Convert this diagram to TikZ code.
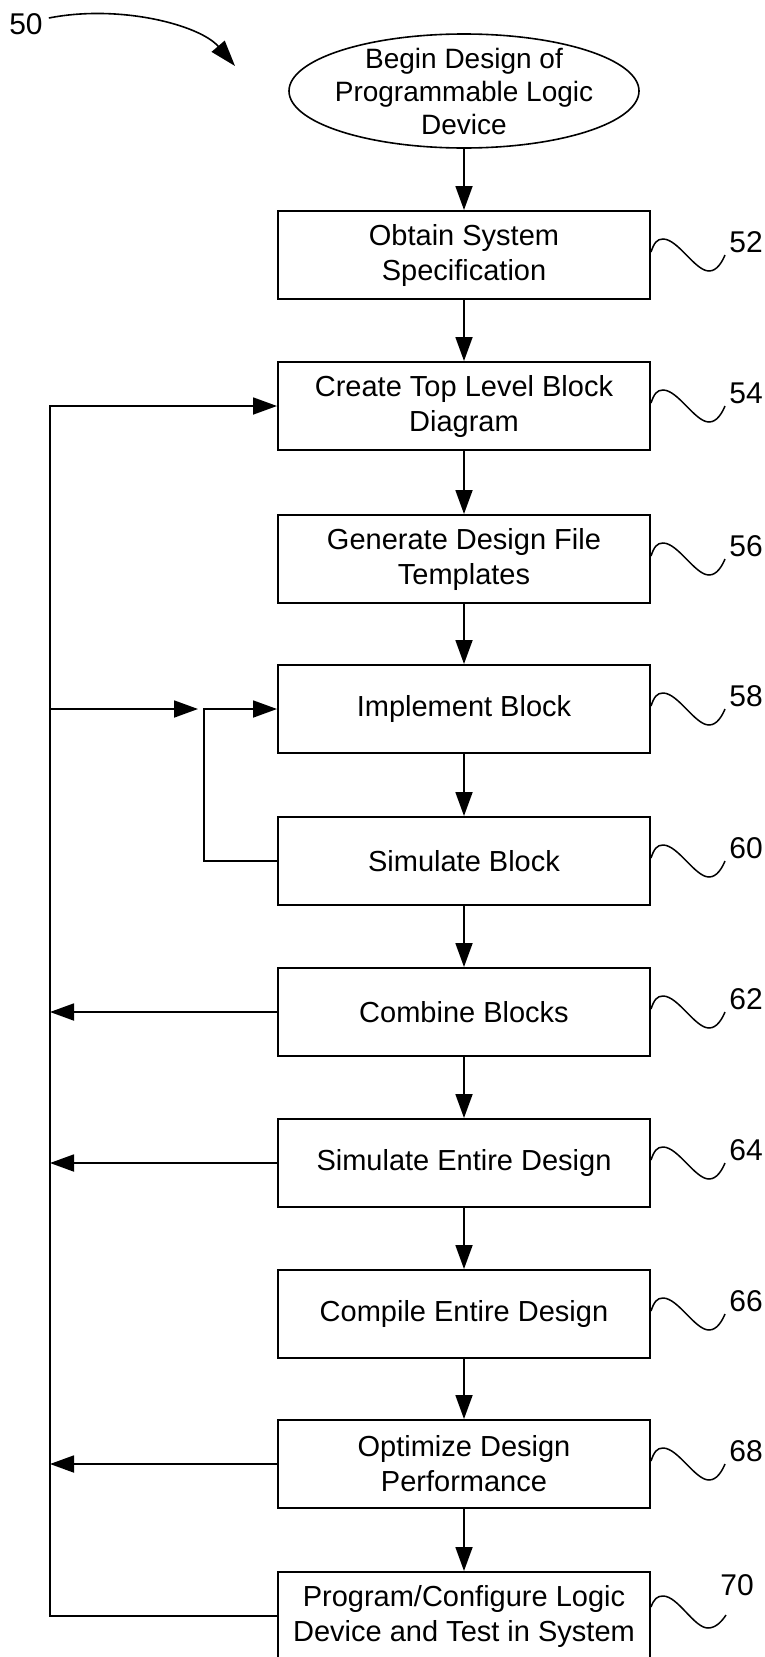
\documentclass[tikz,border=0pt]{standalone}
\usepackage{fontspec}
\setmainfont{Liberation Sans}
\usetikzlibrary{arrows.meta,shapes.geometric,calc}
\tikzset{
  stepbox/.style={draw,line width=2pt,minimum width=372pt,minimum height=88pt,inner sep=0pt,align=center,font=\fontsize{29}{35}\selectfont},
  startoval/.style={draw,ellipse,line width=1.6pt,minimum width=350pt,minimum height=114pt,inner xsep=-12pt,inner ysep=-16pt,align=center,font=\fontsize{28}{33}\selectfont},
  arr/.style={line width=1.8pt,-{Triangle[length=24pt,width=17pt]}},
  conn/.style={line width=1.8pt},
  squig/.style={line width=1.5pt},
  refnum/.style={font=\fontsize{30}{30}\selectfont,inner sep=0pt}
}
\newcommand{\squiggle}[1]{%
  \draw[squig,shift={(#1.east)}] (0,-3) .. controls (3,-12) and (6,-16) .. (12,-16)
     .. controls (27,-16) and (44,16) .. (58,16) .. controls (66,16) and (71,7) .. (74,0);}
\begin{document}
\begin{tikzpicture}[x=1pt,y=-1pt]
\useasboundingbox (0,0) rectangle (765,1657);
\clip (0,0) rectangle (765,1657);

\node[startoval] (start) at (464,91) {Begin Design of\\Programmable Logic\\Device};

\node[stepbox] (b52) at (464,255) {Obtain System\\Specification};
\node[stepbox] (b54) at (464,406) {Create Top Level Block\\Diagram};
\node[stepbox] (b56) at (464,559) {Generate Design File\\Templates};
\node[stepbox] (b58) at (464,709) {Implement Block};
\node[stepbox] (b60) at (464,861) {Simulate Block};
\node[stepbox] (b62) at (464,1012) {Combine Blocks};
\node[stepbox] (b64) at (464,1163) {Simulate Entire Design};
\node[stepbox] (b66) at (464,1314) {Compile Entire Design};
\node[stepbox] (b68) at (464,1464) {Optimize Design\\Performance};
\node[stepbox] (b70) at (464,1616) {Program/Configure Logic\\Device and Test in System};

% reference numerals
\node[refnum] (n50) at (26,24) {50};
\coordinate (t50) at (235,66);
\draw[line width=1.6pt,-{Triangle[length=26pt,width=17pt]}] (n50.east) ++(6,-6) .. controls (120,4) and (200,25) .. (t50);

\foreach \b/\n in {52/52,54/54,56/56,58/58,60/60,62/62,64/64,66/66,68/68}{
  \squiggle{b\b}
  \node[refnum] (n\n) at ($(b\b.east)+(95,-13)$) {\n};
}
\draw[squig,shift={(b70.east)}] (0,-9) .. controls (3,-17) and (6,-20) .. (12,-20)
     .. controls (27,-20) and (43,12) .. (57,12) .. controls (65,12) and (71,5) .. (75,-1);
\node[refnum] (n70) at ($(b70.east)+(86,-31)$) {70};

% main flow
\draw[arr] (start) -- (b52);
\draw[arr] (b52) -- (b54);
\draw[arr] (b54) -- (b56);
\draw[arr] (b56) -- (b58);
\draw[arr] (b58) -- (b60);
\draw[arr] (b60) -- (b62);
\draw[arr] (b62) -- (b64);
\draw[arr] (b64) -- (b66);
\draw[arr] (b66) -- (b68);
\draw[arr] (b68) -- (b70);

% feedback spine
\coordinate (sp54) at (50,406);
\coordinate (sp70) at (50,1616);
\draw[arr] (b70.west) -- (sp70) -- (sp54) -- (b54.west);
\coordinate (sp58) at (50,709);
\coordinate (gap58) at (198,709);
\draw[arr] (sp58) -- (gap58);
\coordinate (lp60) at (204,861);
\draw[arr] (b60.west) -- (lp60) |- (b58.west);
\draw[arr] (b62.west) -- (b62.west -| sp54);
\draw[arr] (b64.west) -- (b64.west -| sp54);
\draw[arr] (b68.west) -- (b68.west -| sp54);
\end{tikzpicture}
\end{document}
